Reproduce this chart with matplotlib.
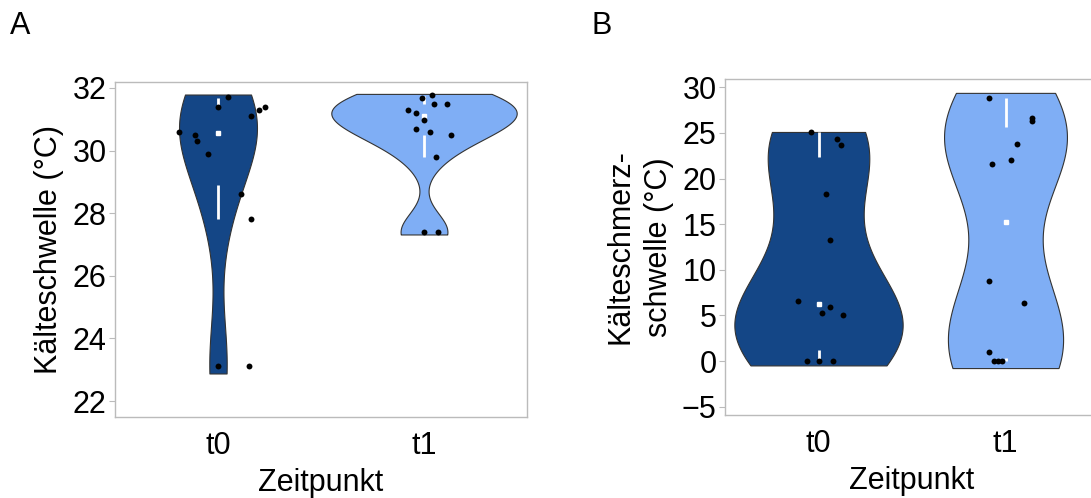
import numpy as np
import matplotlib.pyplot as plt

plt.rcParams['font.family'] = ['Liberation Sans', 'DejaVu Sans']

groups = ['t0', 't1']
colors = ['#144686', '#7FAEF5']

# Panel A: Kälteschwelle, jittered points (x offset, value)
a_t0_y = [31.70, 31.39, 31.39, 31.30, 31.10, 30.60, 30.50, 30.30, 29.89, 28.61, 27.81, 23.12, 23.12]
a_t0_dx = [0.05, 0.0, 0.23, 0.20, 0.16, -0.19, -0.11, -0.10, -0.05, 0.11, 0.16, 0.0, 0.15]
a_t1_y = [31.79, 31.68, 31.49, 31.49, 31.30, 31.19, 30.99, 30.70, 30.60, 30.50, 29.80, 27.40, 27.40]
a_t1_dx = [0.04, -0.01, 0.05, 0.11, -0.08, -0.04, 0.0, -0.04, 0.03, 0.13, 0.06, 0.0, 0.07]
a_lo = [22.88, 27.32]
a_hi = [31.79, 31.81]
# Tufte boxplot stats: whisker low, Q1, median, Q3, whisker high
a_box = [[27.82, 28.91, 30.55, 31.39, 31.68],
         [29.80, 30.51, 31.10, 31.49, 31.73]]

# Panel B: Kälteschmerzschwelle
b_t0_y = [25.10, 24.30, 23.68, 18.31, 13.23, 6.62, 5.92, 5.23, 5.05, 0.0, 0.0, 0.0]
b_t0_dx = [-0.04, 0.10, 0.12, 0.04, 0.06, -0.11, 0.06, 0.02, 0.13, -0.06, 0.0, 0.08]
b_t1_y = [28.87, 26.60, 26.30, 23.79, 22.00, 21.60, 8.81, 6.32, 1.03, 0.0, 0.0, 0.0]
b_t1_dx = [-0.09, 0.14, 0.14, 0.06, 0.03, -0.07, -0.09, 0.10, -0.09, -0.06, -0.04, -0.02]
b_lo = [-0.47, -0.76]
b_hi = [25.10, 29.38]
b_box = [[0.0, 1.2, 6.29, 22.33, 25.10],
         [0.0, 0.3, 15.28, 25.69, 28.87]]

FS = 22


def nrd0(x):
    x = np.asarray(x)
    sd = np.std(x, ddof=1)
    iqr = np.subtract(*np.percentile(x, [75, 25]))
    lo = min(sd, iqr / 1.34) if iqr > 0 else sd
    return 0.9 * lo * len(x) ** -0.2


def kde(x, grid, adjust):
    x = np.asarray(x)
    bw = nrd0(x) * adjust
    z = (grid[:, None] - x[None, :]) / bw
    return np.exp(-0.5 * z ** 2).sum(axis=1) / (len(x) * bw * np.sqrt(2 * np.pi))


def panel(ax, data, dxs, los, his, box, adjust=1.0):
    grids, dens = [], []
    for d, lo, hi in zip(data, los, his):
        g = np.linspace(lo, hi, 300)
        grids.append(g)
        dens.append(kde(d, g, adjust))
    scale = 0.45 / max(dd.max() for dd in dens)
    for i, (g, dd) in enumerate(zip(grids, dens)):
        w = dd * scale
        ax.fill_betweenx(g, i - w, i + w, facecolor=colors[i], edgecolor='#333333', lw=0.8, zorder=2)
        wl, q1, med, q3, wh = box[i]
        ax.plot([i, i], [q3, wh], color='white', lw=2, zorder=3, solid_capstyle='butt')
        ax.plot([i, i], [wl, q1], color='white', lw=2, zorder=3, solid_capstyle='butt')
        ax.plot([i], [med], marker='s', color='white', ms=3, zorder=3)
        ax.scatter(i + np.asarray(dxs[i]), data[i], s=18, color='black', zorder=4, lw=0)
    ax.set_xlim(-0.5, 1.5)
    ax.set_xticks([0, 1])
    ax.set_xticklabels(groups)
    ax.tick_params(axis='x', length=0, labelsize=FS, pad=10)
    ax.tick_params(axis='y', length=4, color='#BBBBBB', labelsize=FS, pad=2)
    for s in ax.spines.values():
        s.set_color('#BBBBBB')
        s.set_linewidth(1)
    ax.set_xlabel('Zeitpunkt', fontsize=FS, labelpad=5)


fig = plt.figure(figsize=(10.91, 4.98), dpi=100)
ax1 = fig.add_axes([115 / 1091, 1 - 417 / 498, 412 / 1091, 335 / 498])
ax2 = fig.add_axes([725 / 1091, 1 - 415 / 498, 374 / 1091, 336 / 498])

panel(ax1, [a_t0_y, a_t1_y], [a_t0_dx, a_t1_dx], a_lo, a_hi, a_box, adjust=1.5)
ax1.set_ylim(21.49, 32.19)
ax1.set_yticks([22, 24, 26, 28, 30, 32])
ax1.set_ylabel('Kälteschwelle (°C)', fontsize=FS, labelpad=6)

panel(ax2, [b_t0_y, b_t1_y], [b_t0_dx, b_t1_dx], b_lo, b_hi, b_box)
ax2.set_ylim(-5.9, 30.9)
ax2.set_yticks([-5, 0, 5, 10, 15, 20, 25, 30])
ax2.set_ylabel('Kälteschmerz-\nschwelle (°C)', fontsize=FS, labelpad=6, linespacing=1.35)

fig.text(10 / 1091, 1 - 34 / 498, 'A', fontsize=FS)
fig.text(592 / 1091, 1 - 34 / 498, 'B', fontsize=FS)

fig.savefig('out.png', dpi=100)
